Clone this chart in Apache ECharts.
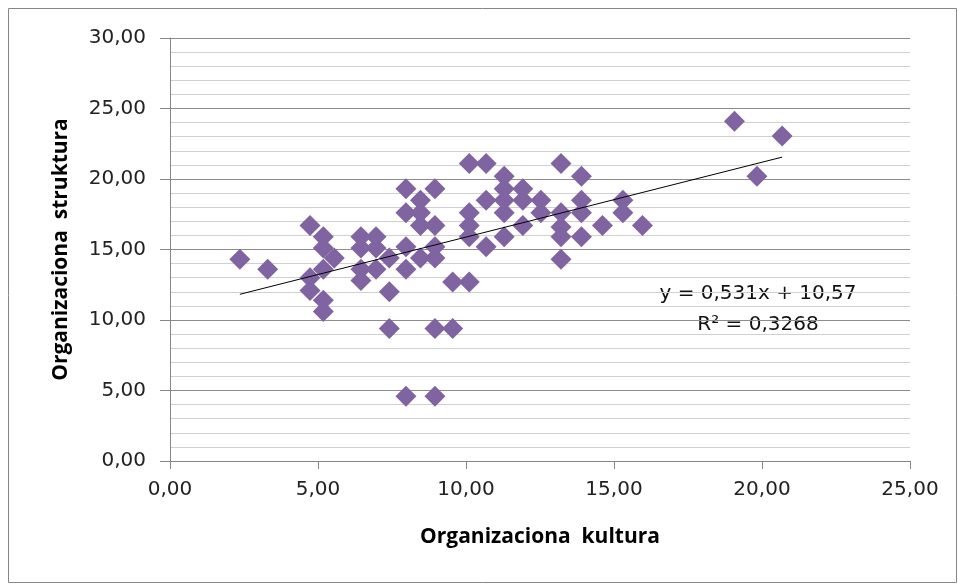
<!DOCTYPE html>
<html>
<head>
<meta charset="utf-8">
<script src="https://cdn.jsdelivr.net/npm/echarts@6/dist/echarts.min.js"></script>
<style>
  html, body { margin: 0; padding: 0; background: #ffffff; }
  #chart { width: 958px; height: 585px; }
</style>
</head>
<body>
<div id="chart"></div>
<script>
// Organizaciona kultura (x) vs. organizaciona struktura (y), one entry per respondent
const kultura = [
  2.36, 3.30,
  4.73, 4.73, 4.73,
  5.18, 5.18, 5.18, 5.18, 5.18,
  5.55,
  6.45, 6.45, 6.45, 6.45,
  6.96, 6.96, 6.96,
  7.41, 7.41, 7.41,
  7.97, 7.97, 7.97, 7.97, 7.97,
  8.46, 8.46, 8.46, 8.46,
  8.95, 8.95, 8.95, 8.95, 8.95, 8.95,
  9.55, 9.55,
  10.11, 10.11, 10.11, 10.11, 10.11,
  10.68, 10.68, 10.68,
  11.29, 11.29, 11.29, 11.29, 11.29,
  11.92, 11.92, 11.92,
  12.53, 12.53,
  13.21, 13.21, 13.21, 13.21, 13.21,
  13.90, 13.90, 13.90, 13.90,
  14.61,
  15.30, 15.30,
  15.96,
  19.07, 19.83, 20.68
];
const struktura = [
  14.3, 13.6,
  16.7, 13.0, 12.1,
  15.9, 15.1, 13.6, 11.4, 10.6,
  14.4,
  15.9, 15.1, 13.6, 12.8,
  15.9, 15.1, 13.6,
  14.4, 12.0, 9.4,
  19.3, 17.6, 15.2, 13.6, 4.6,
  18.5, 17.6, 16.7, 14.4,
  19.3, 16.7, 15.2, 14.4, 9.4, 4.6,
  12.7, 9.4,
  21.1, 17.6, 16.7, 15.9, 12.7,
  21.1, 18.5, 15.2,
  20.2, 19.3, 18.5, 17.6, 15.9,
  19.3, 18.5, 16.7,
  18.5, 17.6,
  21.1, 17.6, 16.6, 15.9, 14.3,
  20.2, 18.5, 17.6, 15.9,
  16.7,
  18.5, 17.6,
  16.7,
  24.1, 20.2, 23.05
];

// Linear trend: y = 0,531x + 10,57 ; R² = 0,3268
const trendSlope = 0.531;
const trendIntercept = 10.57;
const trendR2 = 0.3268;

const xTicks = [0, 5, 10, 15, 20, 25];
const yTicks = [0, 5, 10, 15, 20, 25, 30];

const fmt = (v, d) => v.toFixed(d).replace('.', ',');

const points = kultura.map((x, i) => [x, struktura[i]]);
const xMinData = Math.min(...kultura);
const xMaxData = Math.max(...kultura);
const trend = [xMinData, xMaxData].map(x => [x, trendSlope * x + trendIntercept]);

const TITLE_FONT = 'Open Sans';
const NUM_FONT = 'DejaVu Sans';
const chart = echarts.init(document.getElementById('chart'), null, { renderer: 'canvas' });

chart.setOption({
  animation: false,
  backgroundColor: '#ffffff',
  grid: { left: 170, right: 48, top: 38, bottom: 124, containLabel: false },
  xAxis: {
    type: 'value',
    min: xTicks[0], max: xTicks[xTicks.length - 1], interval: 5,
    name: 'Organizaciona  kultura',
    nameLocation: 'middle', nameGap: 66,
    nameTextStyle: { fontFamily: TITLE_FONT, fontWeight: 'bold', fontSize: 21, color: '#000' },
    axisLine: { show: true, lineStyle: { color: '#868686', width: 1 } },
    axisTick: { show: true, length: 8, lineStyle: { color: '#868686' } },
    axisLabel: { formatter: v => fmt(v, 2), fontFamily: NUM_FONT, fontSize: 20, color: '#222', margin: 19 },
    splitLine: { show: false }
  },
  yAxis: {
    type: 'value',
    min: yTicks[0], max: yTicks[yTicks.length - 1], interval: 5,
    name: 'Organizaciona  struktura',
    nameLocation: 'middle', nameGap: 98, nameRotate: 90,
    nameTextStyle: { fontFamily: TITLE_FONT, fontWeight: 'bold', fontSize: 21, color: '#000' },
    axisLine: { show: true, lineStyle: { color: '#868686', width: 1 } },
    axisTick: { show: true, length: 10, lineStyle: { color: '#868686' } },
    axisLabel: { formatter: v => fmt(v, 2), fontFamily: NUM_FONT, fontSize: 20, color: '#222', margin: 24 },
    splitLine: { show: true, lineStyle: { color: '#8c8c8c', width: 1 } },
    minorTick: { show: false, splitNumber: 5 },
    minorSplitLine: { show: true, lineStyle: { color: '#d0d0d0', width: 1 } }
  },
  series: [
    {
      type: 'scatter',
      data: points,
      symbol: 'diamond',
      symbolSize: 21,
      itemStyle: { color: '#8064A2', opacity: 1 },
      z: 3
    },
    {
      type: 'line',
      data: trend,
      symbol: 'none',
      lineStyle: { color: '#000000', width: 1 },
      z: 4,
      silent: true
    }
  ],
  graphic: [
    {
      type: 'rect',
      shape: { x: 8.5, y: 8.5, width: 948, height: 574 },
      style: { fill: 'none', stroke: '#868686', lineWidth: 1 },
      silent: true
    },
    {
      type: 'text',
      x: 758, y: 294,
      style: {
        text: 'y = ' + fmt(trendSlope, 3) + 'x + ' + fmt(trendIntercept, 2),
        font: '20px "' + NUM_FONT + '"', fill: '#111',
        align: 'center', verticalAlign: 'middle'
      }
    },
    {
      type: 'text',
      x: 758, y: 325,
      style: {
        text: 'R² = ' + fmt(trendR2, 4),
        font: '20px "' + NUM_FONT + '"', fill: '#111',
        align: 'center', verticalAlign: 'middle'
      }
    }
  ]
});
</script>
</body>
</html>
